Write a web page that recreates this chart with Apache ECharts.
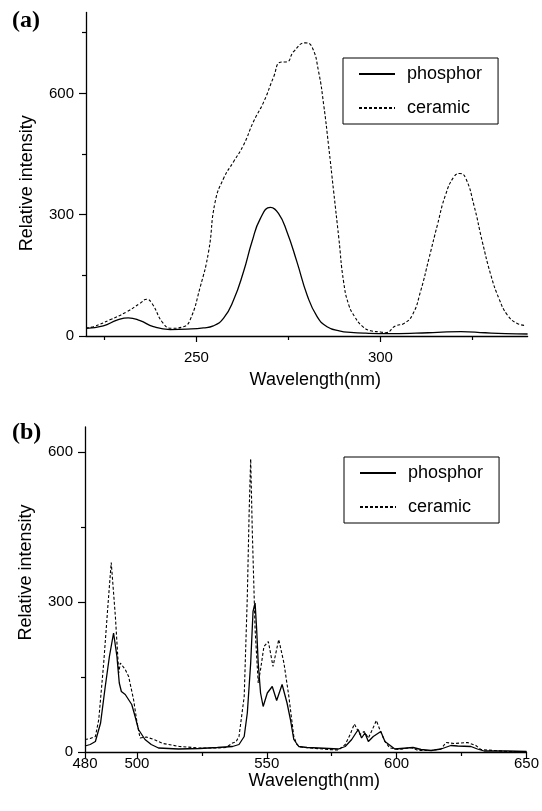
<!DOCTYPE html>
<html><head><meta charset="utf-8">
<script src="https://cdn.jsdelivr.net/npm/echarts@6.0.0/dist/echarts.min.js"></script>
<style>html,body{margin:0;padding:0;background:#fff}#c{width:542px;height:811px}</style>
</head><body><div id="c"></div>
<script>
// Panel (a): excitation spectra
const aPhosphorX = [220, 224.7, 228.4, 231.5, 234.7, 238.3, 242.9, 247.4, 251.9, 254.6, 257.4, 260.1, 262.8, 265.1, 267.4, 270.1, 272.3, 274.6, 277.3, 280.1, 282.8, 285.5, 289.1, 291.9, 296, 302, 309.6, 315.5, 321.9, 328.5, 334, 340];
const aPhosphorY = [19, 25, 39, 45, 38, 23, 16, 17, 20, 25, 44, 89, 159, 233, 291, 318, 303, 258, 184, 101, 48, 23, 12, 9, 7, 6, 7, 9, 11, 8, 6, 5];
const aCeramicX = [220, 222, 226.5, 231.1, 234.7, 236.5, 237.9, 241, 243.3, 246.5, 248.3, 251, 253.3, 255.1, 257.4, 260.1, 262.8, 265.5, 268.3, 271, 272.8, 274.6, 276.4, 279.6, 281.4, 283.2, 284.6, 285.9, 287.3, 288.7, 290, 291.4, 293, 295, 297.3, 300, 301.4, 304.1, 306.4, 308.7, 310.9, 313.2, 315.5, 317.7, 320, 321.6, 323.2, 325.4, 327.7, 330, 332.2, 334.5, 337.2, 339.5];
const aCeramicY = [20, 23, 40, 60, 81, 91, 81, 31, 19, 23, 40, 120, 208, 332, 390, 431, 472, 530, 579, 641, 677, 678, 703, 725, 715, 654, 571, 472, 357, 242, 134, 77, 48, 25, 13, 10, 8, 25, 31, 52, 110, 192, 275, 349, 394, 402, 390, 324, 233, 151, 93, 52, 31, 26];

// Panel (b): emission spectra
const bPhosphorX = [480, 482, 484, 486, 487.8, 489.4, 491, 492.3, 493.2, 494, 495.5, 498, 499.3, 500.6, 503.1, 505.5, 508.3, 516, 524, 531, 536.8, 539.3, 541.3, 542.5, 543.8, 544.7, 545.5, 546.1, 546.7, 547.6, 548.6, 550.2, 552.1, 553.8, 555.9, 557.8, 559.1, 560.4, 562.3, 565.5, 569.9, 577.6, 580.2, 582.7, 585.2, 586.5, 587.8, 589.1, 591, 593.9, 595.5, 599.3, 606.3, 609.4, 613.3, 617.1, 620.9, 623.5, 628.6, 631.1, 633.7, 642.6, 650];
const bPhosphorY = [12, 15, 21, 58, 131, 191, 238, 191, 138, 121, 115, 95, 71, 45, 25, 15, 8, 6, 7, 9, 11, 15, 31, 78, 178, 281, 298, 245, 178, 118, 91, 118, 131, 103, 135, 98, 65, 25, 11, 9, 8, 6, 11, 25, 45, 28, 38, 21, 31, 41, 21, 6, 9, 5, 3, 6, 13, 12, 11, 6, 2, 2, 1];
const bCeramicX = [480, 482, 484, 485.3, 487.2, 488.9, 490.1, 491.7, 493, 493.6, 494.2, 495.5, 496.8, 498.7, 500, 501.2, 503.7, 507, 510, 516.4, 524, 530, 534.3, 536.8, 538.1, 539.3, 541.3, 542.5, 543.2, 543.8, 544.4, 545.5, 546.7, 547.6, 548.9, 550.6, 552.4, 554.6, 556.6, 558.5, 560.4, 561.6, 563, 567, 573.5, 577.6, 580.2, 582.1, 583.7, 585.9, 587.5, 589.1, 590.3, 592.2, 593.5, 595.5, 597.4, 601, 605.6, 608.2, 613.3, 617.1, 619, 622.2, 627.3, 630.5, 632.4, 642.6, 650];
const bCeramicY = [25, 27, 31, 65, 178, 298, 379, 271, 158, 178, 180, 165, 151, 105, 60, 28, 30, 24, 17, 11, 8, 8, 9, 18, 20, 31, 111, 311, 478, 586, 445, 245, 138, 165, 211, 221, 171, 225, 178, 111, 31, 15, 10, 8, 5, 4, 15, 35, 56, 35, 41, 28, 41, 63, 45, 21, 8, 5, 9, 3, 3, 6, 19, 17, 19, 13, 5, 1, 1];

// Axis tick labels
const aXMajor = [250, 300], aXMinor = [225, 275, 325];
const aYMajor = [0, 300, 600], aYMinor = [150, 450, 750];
const bXMajor = [480, 500, 550, 600, 650], bXMinor = [525, 575, 625];
const bYMajor = [0, 300, 600], bYMinor = [150, 450];
const seriesNames = ['phosphor', 'ceramic'];
const xName = 'Wavelength(nm)', yName = 'Relative intensity';

const zip = (xs, ys) => xs.map((x, i) => [x, ys[i]]);
const FONT = 'Liberation Sans';
const BLACK = '#000';

function xAxisPair(grid, min, max, major, minor, labelMargin, nameGap) {
  return [
    { type: 'value', gridIndex: grid, position: 'bottom', min, max,
      axisLine: { lineStyle: { color: BLACK, width: 1.3 } },
      axisTick: { customValues: major, length: 6, lineStyle: { color: BLACK, width: 1.2 } },
      axisLabel: { customValues: major, color: BLACK, fontSize: 15, fontFamily: FONT, margin: labelMargin },
      splitLine: { show: false },
      name: xName, nameLocation: 'middle', nameGap,
      nameTextStyle: { color: BLACK, fontSize: 18, fontFamily: FONT, padding: [0, 0, 0, 17] } },
    { type: 'value', gridIndex: grid, position: 'bottom', min, max,
      axisLine: { show: false },
      axisTick: { customValues: minor, length: 4, lineStyle: { color: BLACK, width: 1.2 } },
      axisLabel: { show: false }, splitLine: { show: false } }
  ];
}
function yAxisPair(grid, max, major, minor, namePad) {
  return [
    { type: 'value', gridIndex: grid, position: 'left', min: 0, max,
      axisLine: { show: true, lineStyle: { color: BLACK, width: 1.3 } },
      axisTick: { show: true, customValues: major, length: 7, lineStyle: { color: BLACK, width: 1.2 } },
      axisLabel: { customValues: major, color: BLACK, fontSize: 15, fontFamily: FONT, margin: 12 },
      splitLine: { show: false },
      name: yName, nameLocation: 'middle', nameGap: 50,
      nameTextStyle: { color: BLACK, fontSize: 18, fontFamily: FONT, padding: namePad } },
    { type: 'value', gridIndex: grid, position: 'left', min: 0, max,
      axisLine: { show: false },
      axisTick: { show: true, customValues: minor, length: 4, lineStyle: { color: BLACK, width: 1.2 } },
      axisLabel: { show: false }, splitLine: { show: false } }
  ];
}
function legendAt(left, top) {
  return { data: seriesNames, orient: 'vertical', left, top,
    padding: [6, 16, 6, 15], itemWidth: 36, itemHeight: 20, itemGap: 14,
    borderColor: BLACK, borderWidth: 1, selectedMode: false,
    itemStyle: { opacity: 0 },
    textStyle: { color: BLACK, fontSize: 18, fontFamily: FONT, lineHeight: 20, padding: [0, 0, 0, 7] } };
}
function lineSeries(name, data, xi, yi, dashed, smooth) {
  return { type: 'line', name, data, xAxisIndex: xi, yAxisIndex: yi,
    symbol: 'none', smooth, animation: false,
    lineStyle: dashed ? { color: BLACK, width: 1.1, type: [3, 2] } : { color: BLACK, width: 1.3 },
    itemStyle: { color: BLACK } };
}

const chart = echarts.init(document.getElementById('c'), null, { renderer: 'canvas' });
chart.setOption({
  animation: false,
  backgroundColor: '#fff',
  title: [
    { text: '(a)', left: 12, top: 9, padding: 0, textStyle: { fontFamily: 'Liberation Serif', fontWeight: 'bold', fontSize: 24, color: BLACK } },
    { text: '(b)', left: 12, top: 421, padding: 0, textStyle: { fontFamily: 'Liberation Serif', fontWeight: 'bold', fontSize: 24, color: BLACK } }
  ],
  grid: [
    { left: 86, top: 12.5, width: 441.6, height: 323.5 },
    { left: 85, top: 427, width: 444.5, height: 325 }
  ],
  xAxis: [
    ...xAxisPair(0, 220, 340, aXMajor, aXMinor, 14, 35),
    ...xAxisPair(1, 480, 650, bXMajor, bXMinor, 4, 19)
  ],
  yAxis: [
    ...yAxisPair(0, 800, aYMajor, aYMinor, [0, 18, 0, 0]),
    ...yAxisPair(1, 650, bYMajor, bYMinor, [0, 0, 0, 34])
  ],
  legend: [legendAt(343, 58), legendAt(344, 457)],
  series: [
    lineSeries(seriesNames[0], zip(aPhosphorX, aPhosphorY), 0, 0, false, 0.5),
    lineSeries(seriesNames[1], zip(aCeramicX, aCeramicY), 0, 0, true, 0.5),
    lineSeries(seriesNames[0], zip(bPhosphorX, bPhosphorY), 2, 2, false, false),
    lineSeries(seriesNames[1], zip(bCeramicX, bCeramicY), 2, 2, true, false)
  ]
});
</script></body></html>
